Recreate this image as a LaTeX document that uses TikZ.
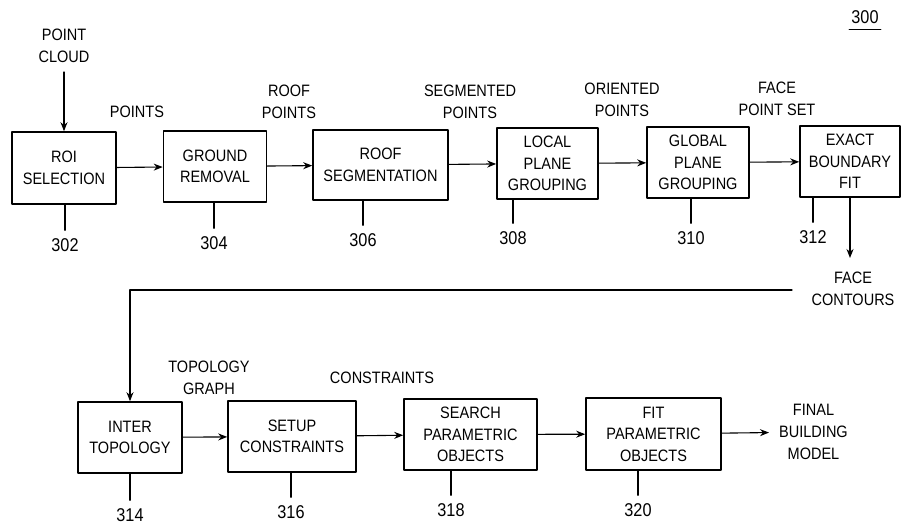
\documentclass[tikz,border=0pt]{standalone}
\usepackage{fontspec}
\setmainfont{Liberation Sans}[FakeStretch=0.88]
\usetikzlibrary{arrows.meta}

\begin{document}
\begin{tikzpicture}
% Roof modelling flow, drawn in pixel units
\providecommand{\flowBoxLineWidth}{1.6pt}
\providecommand{\flowLineWidth}{1.1pt}
\begin{scope}[x=1pt, y=-1pt, line cap=round, line join=round,
  blockbox/.style={draw, line width=\flowBoxLineWidth, align=center, inner sep=0pt,
    font=\fontsize{16.5}{21.5}\selectfont},
  lbl/.style={align=center, inner sep=0pt, font=\fontsize{16.5}{22}\selectfont},
  refnum/.style={inner sep=8pt, font=\fontsize{18.5}{20}\selectfont},
  flow/.style={line width=\flowLineWidth, -{Stealth[length=9pt,width=7pt]}},
  lead/.style={line width=\flowLineWidth}]
  \useasboundingbox (0,0) rectangle (902,524);
  % Upper row of blocks
  \node[blockbox, minimum width=104pt, minimum height=72pt] (roi) at (64,168) {ROI\\SELECTION};
  \node[blockbox, minimum width=103pt, minimum height=71pt] (ground) at (215,166.5) {GROUND\\REMOVAL};
  \node[blockbox, minimum width=135pt, minimum height=70pt] (roofseg) at (380.5,165) {ROOF\\SEGMENTATION};
  \node[blockbox, minimum width=101pt, minimum height=71pt] (localgrp) at (547.5,163.5) {LOCAL\\PLANE\\GROUPING};
  \node[blockbox, minimum width=102pt, minimum height=71pt] (globalgrp) at (698,162.5) {GLOBAL\\PLANE\\GROUPING};
  \node[blockbox, minimum width=100pt, minimum height=71pt] (exactfit) at (850,161.5) {EXACT\\BOUNDARY\\FIT};
  % Lower row of blocks
  \node[blockbox, minimum width=104pt, minimum height=71pt] (intertopo) at (130,437.5) {INTER\\TOPOLOGY};
  \node[blockbox, minimum width=128pt, minimum height=71pt] (setup) at (292,436.5) {SETUP\\CONSTRAINTS};
  \node[blockbox, minimum width=133pt, minimum height=71pt] (search) at (470.5,434.5) {SEARCH\\PARAMETRIC\\OBJECTS};
  \node[blockbox, minimum width=135pt, minimum height=72pt] (fitparam) at (653.5,434) {FIT\\PARAMETRIC\\OBJECTS};
  % Data labels
  \node[lbl, inner ysep=9pt, anchor=south] (cloud) at (64,72) {POINT\\CLOUD};
  \node[lbl] (lpoints) at (137,112) {POINTS};
  \node[lbl] (lroof) at (289,101.5) {ROOF\\POINTS};
  \node[lbl] (lseg) at (470,101.5) {SEGMENTED\\POINTS};
  \node[lbl] (lorient) at (622,100) {ORIENTED\\POINTS};
  \node[lbl] (lface) at (777,99) {FACE\\POINT SET};
  \node[lbl] (contours) at (853,289) {FACE\\CONTOURS};
  \node[lbl] (ltopo) at (209,378) {TOPOLOGY\\GRAPH};
  \node[lbl] (lconstr) at (382,378) {CONSTRAINTS};
  \node[lbl, inner xsep=10pt, anchor=west] (final) at (769,432) {FINAL\\BUILDING\\MODEL};
  \coordinate (facetip) at (850,258);
  \coordinate (fbstart) at (792,290);
  % Flow arrows
  \draw[flow] (cloud) -- (roi);
  \draw[flow] (roi) -- (ground);
  \draw[flow] (ground) -- (roofseg);
  \draw[flow] (roofseg) -- (localgrp);
  \draw[flow] (localgrp) -- (globalgrp);
  \draw[flow] (globalgrp) -- (exactfit);
  \draw[flow] (exactfit.south) -- (facetip);
  \draw[flow] (fbstart) -| (intertopo.north);
  \draw[flow] (intertopo) -- (setup);
  \draw[flow] (setup) -- (search);
  \draw[flow] (search) -- (fitparam);
  \draw[flow] (fitparam) -- (final);
  % Reference numerals with leader lines
  \node[refnum, inner xsep=2pt, inner ysep=6pt] (n300) at (865,17) {300};
  \draw[lead] (n300.south west) -- (n300.south east);
  \node[refnum] (n302) at (65,245) {302};
  \node[refnum] (n304) at (214,243) {304};
  \node[refnum] (n306) at (363,240) {306};
  \node[refnum] (n308) at (513,238) {308};
  \node[refnum] (n310) at (691,238) {310};
  \node[refnum] (n312) at (813,237) {312};
  \node[refnum] (n314) at (130,515) {314};
  \node[refnum] (n316) at (291,512) {316};
  \node[refnum] (n318) at (451,510) {318};
  \node[refnum] (n320) at (638,510) {320};
  \draw[lead] (n302.north) -- (n302.north |- roi.south);
  \draw[lead] (n304.north) -- (n304.north |- ground.south);
  \draw[lead] (n306.north) -- (n306.north |- roofseg.south);
  \draw[lead] (n308.north) -- (n308.north |- localgrp.south);
  \draw[lead] (n310.north) -- (n310.north |- globalgrp.south);
  \draw[lead] (n312.north) -- (n312.north |- exactfit.south);
  \draw[lead] (n314.north) -- (n314.north |- intertopo.south);
  \draw[lead] (n316.north) -- (n316.north |- setup.south);
  \draw[lead] (n318.north) -- (n318.north |- search.south);
  \draw[lead] (n320.north) -- (n320.north |- fitparam.south);
\end{scope}
\end{tikzpicture}
\end{document}
